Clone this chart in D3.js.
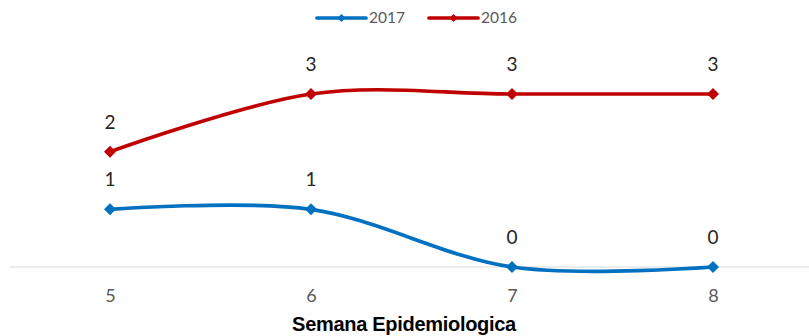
<!DOCTYPE html>
<html>
<head>
<meta charset="utf-8">
<script src="https://cdn.jsdelivr.net/npm/d3@7"></script>
<style>
  html, body { margin: 0; padding: 0; background: #fff; }
  svg { display: block; }
</style>
</head>
<body>
<svg id="chart" width="809" height="336"></svg>
<script>
// Weekly case counts by epidemiological week
const weeks = ["5", "6", "7", "8"];
const cases2017 = [1, 1, 0, 0];
const cases2016 = [2, 3, 3, 3];
const seriesNames = ["2017", "2016"];
const seriesColors = ["#0070C0", "#C00000"];

const svg = d3.select("#chart");
const W = 809;

const x = d3.scalePoint().domain(weeks).range([110, 713]);
const y = d3.scaleLinear().domain([0, 3]).range([267, 94]);

// baseline
svg.append("line")
  .attr("x1", 10).attr("x2", W)
  .attr("y1", y(0)).attr("y2", y(0))
  .attr("stroke", "#d9d9d9").attr("stroke-width", 1);

// category axis (labels only)
const xAxis = d3.axisBottom(x).tickSize(0).tickPadding(0);
const gx = svg.append("g").attr("transform", `translate(0,${y(0)})`).call(xAxis);
gx.select(".domain").remove();
gx.selectAll("text")
  .attr("dy", null).attr("y", 35)
  .attr("font-family", "Lato, 'Open Sans', sans-serif")
  .attr("font-size", 18).attr("fill", "#595959");

// axis title
svg.append("text")
  .attr("x", 404).attr("y", 331)
  .attr("text-anchor", "middle")
  .attr("font-family", "'Liberation Sans', Arial, sans-serif")
  .attr("font-weight", "bold").attr("font-size", 20).attr("fill", "#000")
  .attr("letter-spacing", -0.3)
  .text("Semana Epidemiologica");

const series = [cases2017, cases2016];
const line = d3.line()
  .x((d, i) => x(weeks[i]))
  .y(d => y(d))
  .curve(d3.curveCardinal.tension(0));

// diamond = square turned 45°
const marker = d3.symbol().type(d3.symbolSquare).size(72);

series.forEach((vals, s) => {
  const g = svg.append("g");
  g.append("path").datum(vals)
    .attr("d", line)
    .attr("fill", "none")
    .attr("stroke", seriesColors[s])
    .attr("stroke-width", 3.7)
    .attr("stroke-linecap", "round");
  g.selectAll("path.pt").data(vals).join("path")
    .attr("class", "pt")
    .attr("transform", (d, i) => `translate(${x(weeks[i])},${y(d)}) rotate(45)`)
    .attr("d", marker)
    .attr("fill", seriesColors[s]);
  g.selectAll("text").data(vals).join("text")
    .attr("x", (d, i) => x(weeks[i]))
    .attr("y", d => y(d) - 23)
    .attr("text-anchor", "middle")
    .attr("font-family", "Lato, 'Open Sans', sans-serif")
    .attr("font-size", 19).attr("fill", "#262626")
    .text(d => d);
});

// legend
const legendItems = [
  { x: 317, name: seriesNames[0], color: seriesColors[0] },
  { x: 429, name: seriesNames[1], color: seriesColors[1] }
];
legendItems.forEach(it => {
  const g = svg.append("g").attr("transform", `translate(${it.x},18)`);
  g.append("line").attr("x1", 0).attr("x2", 49).attr("y1", 0).attr("y2", 0)
    .attr("stroke", it.color).attr("stroke-width", 3.7).attr("stroke-linecap", "round");
  g.append("path").attr("transform", "translate(24.5,0) rotate(45)")
    .attr("d", d3.symbol().type(d3.symbolSquare).size(34)).attr("fill", it.color);
  g.append("text").attr("x", 52).attr("y", 5)
    .attr("font-family", "Lato, 'Open Sans', sans-serif")
    .attr("font-size", 15.5).attr("fill", "#595959")
    .text(it.name);
});
</script>
</body>
</html>
